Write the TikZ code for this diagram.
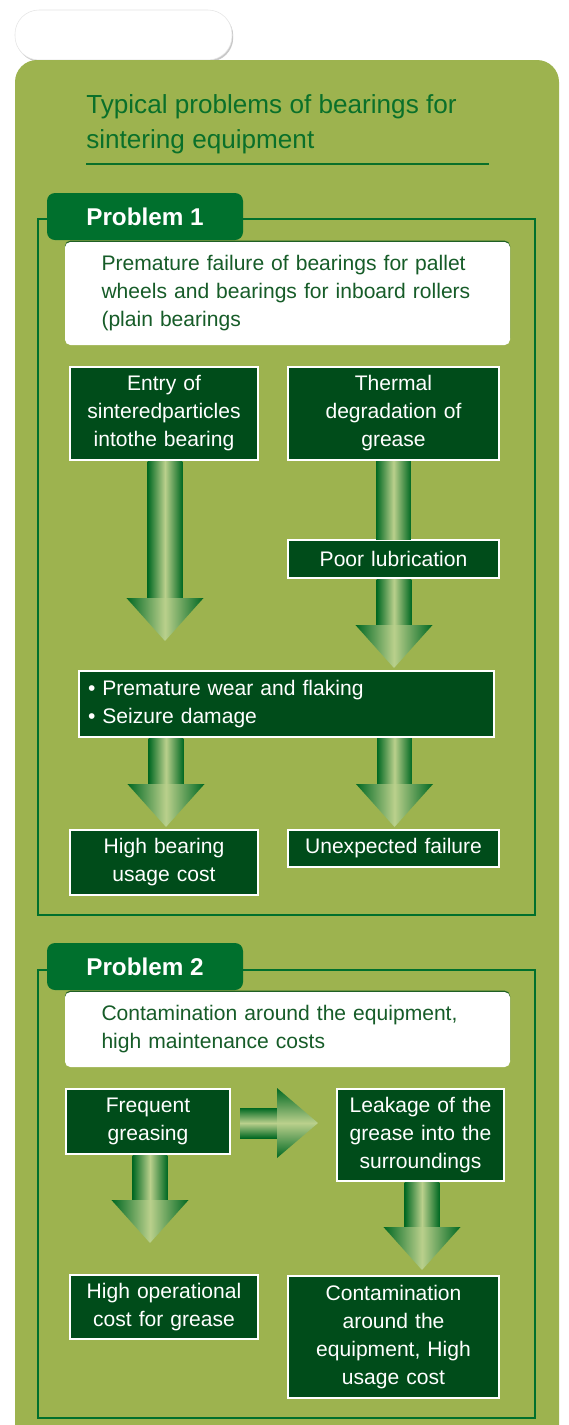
\documentclass[tikz,border=0pt]{standalone}
\usepackage{fontspec}
\setmainfont{Liberation Sans}
\usetikzlibrary{calc,shadows}
\definecolor{panel}{RGB}{157,179,79}
\definecolor{tabgreen}{RGB}{0,112,45}
\definecolor{boxgreen}{RGB}{0,76,26}
\definecolor{textgreen}{RGB}{22,92,40}
\definecolor{titlegreen}{RGB}{10,112,42}
\definecolor{arrowdark}{RGB}{0,104,34}
\definecolor{arrowlight}{RGB}{186,208,140}
\tikzset{
    pilltab/.style={fill=white, draw=black!10, line width=0.4pt, rounded corners=18pt,
        minimum width=162.75pt, minimum height=37.5pt,
        drop shadow={shadow xshift=0.9pt, shadow yshift=-1.3pt, opacity=0.3, fill=black!70}},
    titletext/.style={text=titlegreen, align=left, inner sep=0pt, font=\fontsize{19.6}{26.25}\selectfont},
    titlerule/.style={draw=titlegreen, line width=1.5pt},
    probframe/.style={draw=tabgreen, line width=1.5pt},
    probtab/.style={fill=tabgreen, rounded corners=6pt, text=white, inner sep=0pt,
        minimum width=147pt, minimum height=35.25pt, font=\fontsize{18.2}{22}\selectfont\bfseries},
    headbox/.style={fill=white, rounded corners=4pt, text=textgreen, align=left, inner sep=0pt,
        minimum width=333.75pt, text width=279pt, font=\fontsize{15.8}{21}\selectfont,
        drop shadow={shadow xshift=0pt, shadow yshift=1pt, fill=boxgreen, opacity=0.8}},
    factbox/.style={fill=boxgreen, draw=white, line width=1.5pt, text=white, inner sep=0pt,
        font=\fontsize{15.8}{21}\selectfont},
    downshade/.style={left color=arrowdark, right color=arrowdark, middle color=arrowlight},
    rightshade/.style={top color=arrowdark, bottom color=arrowdark, middle color=arrowlight}
}
\newcommand{\fact}[7][center]{
    \pgfmathsetmacro\factw{(#5-#3)*0.75}
    \pgfmathsetmacro\facth{(#6-#4)*0.75}
    \pgfmathsetmacro\facttw{(#5-#3-18)*0.75}
    \node[factbox, align=#1, minimum width=\factw pt, minimum height=\facth pt, text width=\facttw pt]
        (#2) at ({(#3+#5)/2},{(#4+#6)/2}) {#7};
}
\newcommand{\probtab}[3]{
    \node[probtab] (#1) at (145,#2+23.5) {#3};
}
\newcommand{\headbox}[4]{
    \pgfmathsetmacro\headh{(#3-#2)*0.75}
    \node[headbox, minimum height=\headh pt] (#1) at (287.5,{(#2+#3)/2}) {#4};
}
\newcommand{\blockdown}[2]{
    \shade[downshade] let \p1=(#1), \p2=(#2) in (\x2-13.1pt,\y1) rectangle (\x2+13.1pt,\y2+31.5pt);
    \shade[downshade] let \p2=(#2) in
        (\x2-28.9pt,\y2+32.25pt) -- (\x2,\y2) -- (\x2+28.9pt,\y2+32.25pt) -- cycle;
}
\newcommand{\blockshaft}[2]{
    \shade[downshade] let \p1=(#1), \p2=(#2) in (\x1-13.1pt,\y1) rectangle (\x1+13.1pt,\y2);
}
\newcommand{\blockright}[2]{
    \shade[rightshade] let \p1=(#1), \p2=(#2) in (\x1,\y2-11.25pt) rectangle (\x2-30pt,\y2+11.25pt);
    \shade[rightshade] let \p2=(#2) in
        (\x2-30.75pt,\y2+26.25pt) -- (\x2,\y2) -- (\x2-30.75pt,\y2-26.25pt) -- cycle;
}

\begin{document}
\begin{tikzpicture}[x=0.75pt,y=-0.75pt]
    \useasboundingbox (0,0) rectangle (568,1425);
    \fill[white] (0,0) rectangle (568,1425);
    \node[pilltab] (toptab) at (123.5,35) {};
    \fill[panel, rounded corners=16.5pt] (15,1425) -- (15,60) -- (559,60) -- (559,1425);
    \node[titletext, anchor=north west] (title) at (86,94) {Typical problems of bearings for\\sintering equipment};
    \draw[titlerule] (86,164) -- (489,164);

    \draw[probframe] (38,219) rectangle (535,915);
    \probtab{p1tab}{193}{Problem 1}
    \headbox{p1head}{242}{345}{Premature failure of bearings for pallet\\wheels and bearings for inboard rollers\\(plain bearings}
    \fact{entry}{70}{367}{258}{460}{Entry of\\sinteredparticles\\intothe bearing}
    \fact{thermal}{288}{367}{499}{460}{Thermal\\degradation of\\grease}
    \fact{lub}{288}{540}{499}{578}{Poor lubrication}
    \fact[left]{wear}{79}{671}{494}{737}{• Premature wear and flaking\\• Seizure damage}
    \fact{cost1}{70}{830}{258}{895}{High bearing\\usage cost}
    \fact{fail}{288}{830}{499}{867}{Unexpected failure}
    \coordinate (t1) at (165,641);
    \coordinate (t3) at (394,668);
    \coordinate (t4) at (166,827);
    \coordinate (t5) at (394.5,827);
    \blockdown{entry.south}{t1}
    \blockshaft{thermal.south}{lub.north}
    \blockdown{lub.south}{t3}
    \blockdown{wear.south}{t4}
    \blockdown{wear.south}{t5}

    \draw[probframe] (38,970) rectangle (535,1418);
    \probtab{p2tab}{943}{Problem 2}
    \headbox{p2head}{992}{1067}{Contamination around the equipment,\\high maintenance costs}
    \fact{greasing}{66}{1089}{230}{1154}{Frequent\\greasing}
    \fact{leak}{337}{1089}{504}{1181}{Leakage of the\\grease into the\\surroundings}
    \fact{cost2}{70}{1275}{258}{1339}{High operational\\cost for grease}
    \fact{contam}{288}{1276}{499}{1398}{Contamination\\around the\\equipment, High\\usage cost}
    \coordinate (t6) at (318,1123);
    \coordinate (t7) at (150,1243);
    \coordinate (t8) at (422,1270);
    \blockright{[xshift=6.75pt]greasing.east}{t6}
    \blockdown{greasing.south}{t7}
    \blockdown{leak.south}{t8}
\end{tikzpicture}
\end{document}
